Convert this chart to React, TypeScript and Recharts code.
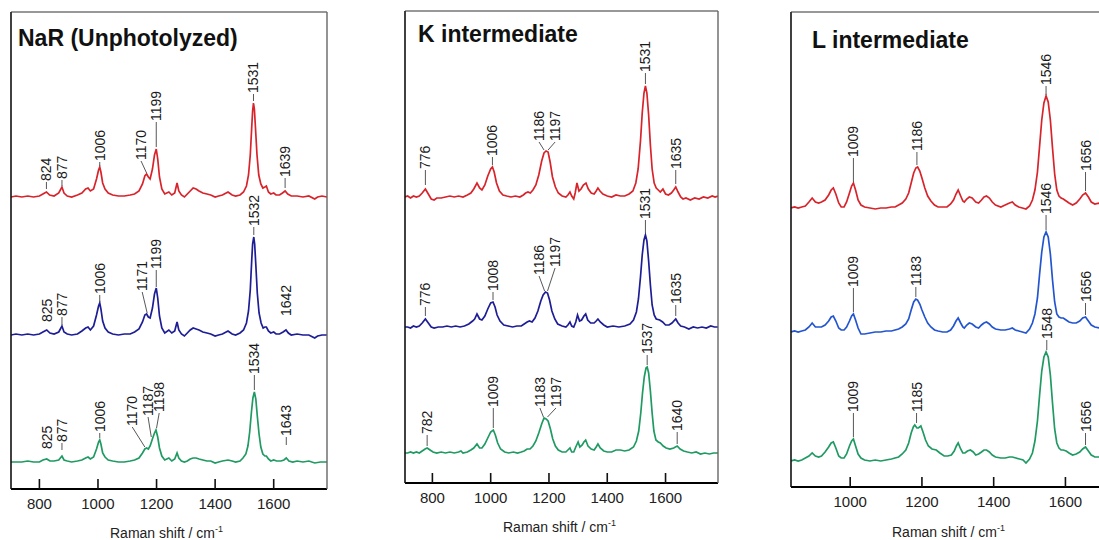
import React from "react";
import { ComposedChart, Line, XAxis, YAxis, Scatter, ReferenceLine } from "recharts";

type P = [number, number];
type Lab = [string, number, number, number, number]; // text, textWn, textY, peakWn, leaderEndY

const FONT = "'Liberation Sans', Arial, Helvetica, sans-serif";

// ---- NaR (unphotolyzed) ----
const narRed: P[] = [[703,0],[720,1],[740,0],[760,1],[780,0],[800,1],[812,3],[824,5],[835,2],[850,1],[866,4],[877,10],[884,4],[895,1],[910,0],[930,2],[945,4],[958,8],[966,9],[974,6],[985,8],[995,18],[1002,27],[1006,30],[1010,25],[1016,14],[1024,8],[1035,4],[1050,2],[1070,1],[1090,1],[1110,2],[1125,3],[1140,6],[1152,13],[1160,21],[1166,23],[1172,20],[1178,18],[1186,28],[1193,42],[1199,48],[1204,38],[1210,20],[1218,8],[1228,3],[1242,5],[1252,2],[1262,4],[1270,14],[1276,6],[1285,2],[1295,0],[1305,3],[1315,6],[1325,9],[1335,8],[1345,6],[1358,4],[1372,3],[1385,2],[1400,0],[1412,1],[1425,2],[1444,5],[1458,2],[1470,1],[1485,2],[1497,5],[1507,11],[1514,22],[1520,42],[1525,70],[1528,86],[1531,94],[1534,88],[1538,68],[1543,42],[1549,22],[1556,13],[1563,9],[1570,10],[1575,11],[1582,5],[1590,3],[1600,4],[1608,2],[1620,2],[1630,4],[1639,6],[1648,3],[1660,1],[1680,1],[1700,0],[1720,1],[1740,-2],[1750,0],[1765,1],[1782,0]];
const narBlue: P[] = [[703,0],[720,1],[740,0],[760,1],[780,0],[800,1],[812,3],[825,5],[836,2],[850,1],[866,3],[877,9],[884,3],[895,1],[910,0],[930,1],[945,4],[958,7],[966,8],[974,5],[985,9],[995,20],[1002,29],[1006,32],[1010,26],[1016,14],[1024,7],[1035,3],[1050,1],[1070,0],[1090,1],[1110,1],[1125,3],[1140,6],[1152,13],[1160,20],[1166,21],[1172,18],[1178,17],[1186,27],[1193,41],[1199,47],[1204,37],[1210,19],[1218,7],[1228,2],[1242,5],[1252,2],[1262,4],[1270,13],[1276,5],[1285,1],[1295,-1],[1305,2],[1315,5],[1325,7],[1335,6],[1345,5],[1358,3],[1372,2],[1385,1],[1400,-1],[1412,0],[1425,1],[1444,4],[1458,1],[1470,0],[1485,2],[1497,5],[1507,12],[1514,24],[1520,45],[1525,75],[1528,91],[1532,98],[1535,91],[1539,70],[1544,42],[1550,22],[1557,12],[1564,7],[1570,8],[1575,8],[1582,4],[1590,2],[1600,3],[1608,1],[1620,1],[1632,3],[1642,5],[1650,2],[1660,0],[1680,1],[1700,0],[1720,0],[1740,-3],[1750,-1],[1765,0],[1782,0]];
const narGreen: P[] = [[703,0],[720,0],[740,0],[760,1],[780,0],[800,0],[812,2],[825,3],[836,1],[850,1],[866,2],[877,6],[884,2],[895,1],[910,0],[930,1],[945,2],[958,4],[966,5],[974,3],[985,5],[995,13],[1002,20],[1006,22],[1010,18],[1016,9],[1024,5],[1035,2],[1050,1],[1070,0],[1090,0],[1110,1],[1125,2],[1140,4],[1152,9],[1160,13],[1166,14],[1172,13],[1178,16],[1187,24],[1193,29],[1198,32],[1204,25],[1210,14],[1218,6],[1228,2],[1242,4],[1252,1],[1262,3],[1270,9],[1276,4],[1285,1],[1295,0],[1305,1],[1315,3],[1325,4],[1335,4],[1345,3],[1358,2],[1372,1],[1385,1],[1400,-1],[1412,0],[1425,1],[1444,2],[1458,1],[1470,0],[1485,1],[1495,4],[1505,8],[1512,16],[1518,30],[1524,50],[1529,64],[1534,70],[1539,63],[1544,46],[1550,28],[1556,15],[1563,8],[1570,6],[1575,6],[1582,3],[1590,1],[1600,2],[1610,1],[1625,1],[1635,2],[1643,4],[1652,1],[1665,0],[1680,1],[1700,0],[1720,1],[1740,-1],[1760,0],[1782,0]];
const narOffsets = [292, 154, 27];
const narLabels: Lab[] = [
  ["824",824,307,824,300],["877",877,309,877,303],["1006",1006,327,1006,323],["1170",1147,328,1166,316],["1199",1199,367,1199,342],["1531",1531,395,1531,388],["1639",1639,311,1639,301],
  ["825",825,166,825,166],["877",877,172,877,164],["1006",1006,194,1006,187],["1171",1151,197,1168,176],["1199",1199,219,1199,202],["1532",1532,262,1532,254],["1642",1642,172,1642,172],
  ["825",825,39,825,39],["877",877,46,877,39],["1006",1006,56,1006,51],["1170",1117,62,1160,42],["1187",1171,72,1182,52],["1198",1209,76,1200,61],["1534",1534,114,1534,99],["1643",1643,52,1643,44],
];

// ---- K intermediate ----
const kRed: P[] = [[706,0],[715,1],[725,-1],[735,1],[745,0],[755,1],[765,4],[776,8],[786,3],[796,-2],[806,-3],[815,-1],[830,-1],[845,0],[860,1],[875,0],[890,1],[905,0],[920,2],[932,4],[942,8],[953,14],[962,9],[970,7],[980,12],[990,21],[1000,28],[1006,30],[1012,25],[1020,14],[1030,6],[1042,2],[1055,1],[1070,0],[1085,1],[1100,0],[1112,2],[1120,4],[1128,5],[1136,4],[1145,7],[1155,12],[1165,22],[1175,36],[1183,44],[1190,46],[1197,45],[1204,35],[1212,20],[1222,10],[1232,4],[1245,1],[1258,0],[1265,2],[1272,5],[1278,1],[1285,-2],[1290,4],[1296,14],[1303,6],[1310,8],[1318,12],[1327,14],[1335,8],[1345,4],[1355,3],[1362,6],[1368,9],[1375,6],[1385,3],[1400,1],[1415,0],[1430,2],[1445,1],[1460,1],[1475,3],[1488,6],[1498,14],[1506,28],[1514,56],[1520,84],[1526,104],[1531,111],[1536,104],[1542,82],[1548,52],[1554,28],[1561,14],[1568,9],[1575,7],[1582,5],[1591,8],[1600,3],[1610,2],[1620,4],[1628,7],[1635,10],[1643,5],[1652,0],[1660,-2],[1670,-1],[1685,-3],[1700,-1],[1715,-2],[1730,0],[1745,-1],[1760,1],[1770,0],[1780,1]];
const kBlue: P[] = [[706,0],[715,0],[725,-1],[735,1],[745,0],[755,1],[765,4],[776,8],[786,4],[796,0],[806,-1],[820,0],[835,0],[850,1],[865,0],[880,1],[895,0],[910,1],[925,3],[938,6],[945,8],[953,13],[962,8],[970,7],[980,11],[990,18],[1000,24],[1008,25],[1015,20],[1022,12],[1032,6],[1045,2],[1060,1],[1075,0],[1090,1],[1105,1],[1115,3],[1125,5],[1133,6],[1142,5],[1152,9],[1162,16],[1172,26],[1180,32],[1188,35],[1195,34],[1202,27],[1210,16],[1220,8],[1230,3],[1245,1],[1258,0],[1265,2],[1272,5],[1278,1],[1285,0],[1292,5],[1298,12],[1305,6],[1312,7],[1320,11],[1326,13],[1333,7],[1343,4],[1355,4],[1362,6],[1368,8],[1376,5],[1388,2],[1400,0],[1420,1],[1440,0],[1460,1],[1478,3],[1490,7],[1500,15],[1507,28],[1514,50],[1520,72],[1526,87],[1531,92],[1536,86],[1542,66],[1548,42],[1554,22],[1561,12],[1568,8],[1580,7],[1590,5],[1600,2],[1612,2],[1622,4],[1635,8],[1643,4],[1652,1],[1665,0],[1680,-2],[1695,0],[1710,-1],[1725,0],[1740,-1],[1755,1],[1768,0],[1780,0]];
const kGreen: P[] = [[706,0],[715,0],[725,1],[735,0],[745,1],[755,0],[765,2],[775,4],[782,5],[792,3],[802,1],[815,0],[830,1],[845,0],[860,1],[875,0],[890,1],[898,2],[905,0],[920,1],[932,3],[942,5],[953,9],[962,5],[970,5],[980,9],[990,15],[1000,21],[1009,23],[1016,18],[1024,10],[1034,4],[1048,1],[1062,0],[1078,1],[1092,0],[1105,1],[1115,2],[1125,4],[1135,4],[1145,7],[1155,12],[1165,20],[1175,29],[1183,35],[1190,34],[1197,32],[1205,24],[1213,14],[1222,7],[1232,3],[1245,1],[1258,1],[1265,3],[1272,5],[1278,1],[1285,1],[1292,6],[1300,11],[1306,6],[1314,8],[1320,11],[1326,13],[1334,7],[1345,4],[1355,3],[1362,6],[1368,9],[1376,5],[1388,2],[1400,1],[1415,1],[1430,3],[1445,3],[1460,2],[1475,3],[1490,6],[1500,12],[1508,22],[1515,40],[1521,60],[1527,76],[1533,85],[1537,86],[1542,80],[1548,62],[1554,40],[1560,22],[1567,13],[1575,11],[1582,10],[1592,7],[1602,5],[1615,4],[1628,5],[1640,7],[1650,4],[1662,2],[1675,1],[1690,0],[1705,1],[1720,-1],[1735,0],[1750,-1],[1765,0],[1780,0]];
const kOffsets = [286, 156, 30];
const kLabels: Lab[] = [
  ["776",776,313,776,298],["1006",1006,326,1006,318],["1186",1166,341,1183,333],["1197",1221,341,1197,333],["1531",1531,410,1531,399],["1635",1635,313,1635,299],
  ["776",776,176,776,167],["1008",1008,191,1008,183],["1186",1166,207,1185,192],["1197",1221,215,1195,192],["1531",1531,263,1531,250],["1635",1635,178,1635,167],
  ["782",782,48,782,37],["1009",1009,75,1009,55],["1183",1169,75,1181,66],["1197",1224,75,1195,66],["1537",1537,128,1537,118],["1640",1640,51,1640,39],
];

// ---- L intermediate ----
const lRed: P[] = [[835,0],[845,1],[855,0],[865,1],[875,2],[885,6],[894,10],[903,6],[912,5],[920,6],[930,8],[940,13],[947,18],[953,20],[960,14],[968,5],[975,1],[983,1],[990,6],[998,15],[1004,22],[1009,25],[1015,18],[1022,8],[1030,3],[1040,1],[1055,0],[1070,-1],[1085,0],[1100,0],[1115,1],[1125,1],[1135,3],[1145,5],[1155,9],[1163,15],[1170,25],[1177,35],[1183,40],[1188,41],[1194,37],[1200,30],[1208,20],[1216,12],[1225,7],[1235,3],[1245,1],[1258,1],[1270,1],[1280,4],[1288,8],[1295,14],[1301,18],[1308,12],[1314,7],[1318,6],[1325,9],[1332,11],[1340,10],[1350,6],[1358,5],[1366,8],[1373,11],[1380,12],[1388,10],[1396,6],[1405,3],[1420,1],[1432,3],[1444,5],[1452,6],[1460,3],[1470,1],[1480,0],[1490,-1],[1500,2],[1508,8],[1515,18],[1522,36],[1528,62],[1534,88],[1540,105],[1546,112],[1552,106],[1558,88],[1564,60],[1570,34],[1576,18],[1582,12],[1588,10],[1594,9],[1602,7],[1610,5],[1620,3],[1630,5],[1640,9],[1648,13],[1656,15],[1664,11],[1672,6],[1682,4],[1694,5],[1710,3],[1730,2],[1750,1],[1780,1]];
const lBlue: P[] = [[835,0],[845,1],[855,0],[865,1],[875,2],[885,5],[894,9],[903,5],[912,5],[920,5],[930,7],[940,11],[947,15],[953,16],[960,11],[968,4],[975,2],[983,2],[990,5],[998,11],[1004,16],[1009,18],[1015,12],[1022,4],[1030,-2],[1040,-2],[1055,-1],[1070,0],[1085,0],[1100,1],[1115,1],[1125,2],[1135,3],[1145,5],[1155,8],[1163,13],[1170,22],[1177,30],[1183,33],[1188,32],[1194,28],[1200,22],[1208,15],[1216,9],[1225,5],[1235,2],[1245,1],[1258,0],[1270,0],[1280,2],[1288,6],[1295,11],[1301,14],[1308,9],[1314,5],[1318,4],[1325,7],[1332,9],[1340,8],[1350,5],[1358,4],[1366,7],[1373,9],[1380,10],[1388,8],[1396,5],[1405,3],[1420,2],[1432,2],[1444,3],[1452,4],[1460,2],[1470,1],[1480,0],[1490,-1],[1500,3],[1508,9],[1515,18],[1522,34],[1528,58],[1534,80],[1540,95],[1546,100],[1552,95],[1558,78],[1564,52],[1570,30],[1576,18],[1582,15],[1588,14],[1594,14],[1602,12],[1610,10],[1620,9],[1630,9],[1640,11],[1648,14],[1656,15],[1664,11],[1672,7],[1682,5],[1694,4],[1710,3],[1730,2],[1750,1],[1780,1]];
const lGreen: P[] = [[835,0],[845,1],[855,0],[865,1],[875,3],[885,5],[894,8],[903,5],[912,4],[920,5],[930,9],[940,14],[947,18],[953,19],[960,13],[968,5],[975,3],[983,3],[990,7],[998,15],[1004,20],[1009,22],[1015,15],[1022,7],[1030,3],[1040,1],[1055,0],[1070,1],[1085,0],[1100,1],[1115,2],[1125,3],[1135,4],[1145,7],[1155,11],[1163,18],[1170,28],[1176,34],[1180,36],[1186,33],[1190,33],[1197,35],[1203,29],[1210,21],[1218,15],[1228,12],[1240,11],[1250,8],[1262,5],[1272,5],[1282,6],[1290,10],[1296,15],[1301,18],[1308,12],[1314,8],[1320,8],[1327,10],[1335,11],[1343,9],[1350,6],[1358,7],[1366,9],[1373,11],[1380,11],[1388,9],[1396,6],[1405,4],[1420,3],[1432,3],[1444,4],[1452,4],[1462,3],[1472,2],[1482,1],[1490,-2],[1500,2],[1508,8],[1515,20],[1522,40],[1528,66],[1534,90],[1540,104],[1546,109],[1552,104],[1558,86],[1564,58],[1570,32],[1576,18],[1582,13],[1588,11],[1594,11],[1602,10],[1610,8],[1620,6],[1630,7],[1640,9],[1648,12],[1656,14],[1664,10],[1672,6],[1682,4],[1694,4],[1710,3],[1730,2],[1750,1],[1780,1]];
const lOffsets = [279, 155, 26];
const lLabels: Lab[] = [
  ["1009",1009,329,1009,305],["1186",1186,335,1186,322],["1546",1546,401,1546,392],["1656",1656,315,1656,296],
  ["1009",1009,199,1009,175],["1183",1183,200,1183,190],["1546",1546,272,1546,257],["1656",1656,184,1656,172],
  ["1009",1009,74,1009,50],["1185",1185,74,1185,64],["1548",1548,147,1548,137],["1656",1656,54,1656,42],
];

const ticks1 = [800, 1000, 1200, 1400, 1600];
const ticks3 = [1000, 1200, 1400, 1600];

type PanelCfg = {
  traces: P[][];
  offsets: number[];
  colors: string[];
  labels: Lab[];
  domain: [number, number];
  yMax: number;
  ticks: number[];
  left: number;
  width: number;
  margin: { top: number; left: number; right: number; bottom: number };
  axisH: number;
};

const TickMark = (props: any) => {
  const { x, y, payload } = props;
  return (
    <g>
      <line x1={x} x2={x} y1={y} y2={y - 10} stroke="#111" strokeWidth={1.6} />
      <text x={x} y={y + 20} textAnchor="middle" fontSize={15} fontFamily={FONT} fill="#222">
        {payload.value}
      </text>
    </g>
  );
};

const LabelShape = (props: any) => {
  const { cx, cy, payload } = props;
  if (cx == null || cy == null) return <g />;
  const yy = cy - 1;
  return (
    <text
      x={cx}
      y={yy}
      transform={`rotate(-90 ${cx} ${yy})`}
      fontSize={14}
      fontFamily={FONT}
      fill="#1a1a1a"
      dominantBaseline="central"
      textAnchor="start"
    >
      {payload.label}
    </text>
  );
};

function Panel({ cfg }: { cfg: PanelCfg }) {
  const labelData = cfg.labels.map(([t, tx, ty]) => ({ x: tx, y: ty, label: t }));
  return (
    <div style={{ position: "absolute", left: cfg.left, top: 0 }}>
      <ComposedChart width={cfg.width} height={540} margin={cfg.margin}>
        <XAxis
          type="number"
          dataKey="x"
          domain={cfg.domain}
          allowDataOverflow
          ticks={cfg.ticks}
          tick={<TickMark />}
          tickLine={false}
          tickSize={0}
          tickMargin={0}
          height={cfg.axisH}
          axisLine={{ stroke: "#000", strokeWidth: 2 }}
          interval={0}
        />
        <YAxis type="number" dataKey="y" domain={[0, cfg.yMax]} allowDataOverflow hide />
        {cfg.traces.map((tr, i) => (
          <Line
            key={"t" + i}
            data={tr.map(([x, v]) => ({ x, y: v + cfg.offsets[i] }))}
            dataKey="y"
            type="linear"
            dot={false}
            activeDot={false}
            stroke={cfg.colors[i]}
            strokeWidth={1.7}
            isAnimationActive={false}
          />
        ))}
        {cfg.labels
          .filter((l) => l[2] !== l[4])
          .map(([t, tx, ty, px, py], i) => (
            <ReferenceLine
              key={"r" + i}
              segment={[
                { x: tx, y: ty },
                { x: px, y: py },
              ]}
              stroke="#444"
              strokeWidth={0.9}
              ifOverflow="visible"
            />
          ))}
        <Scatter data={labelData} dataKey="y" shape={<LabelShape />} isAnimationActive={false} />
      </ComposedChart>
    </div>
  );
}

const panels: PanelCfg[] = [
  {
    traces: [narRed, narBlue, narGreen],
    offsets: narOffsets,
    colors: ["#d8232b", "#1d1d96", "#1f9a62"],
    labels: narLabels,
    domain: [703, 1782],
    yMax: 477,
    ticks: ticks1,
    left: 0,
    width: 340,
    margin: { top: 12, left: 11, right: 13, bottom: 0 },
    axisH: 51,
  },
  {
    traces: [kRed, kBlue, kGreen],
    offsets: kOffsets,
    colors: ["#d8232b", "#1d1d96", "#1f9a62"],
    labels: kLabels,
    domain: [706, 1780],
    yMax: 472,
    ticks: ticks1,
    left: 380,
    width: 350,
    margin: { top: 11, left: 25, right: 12, bottom: 0 },
    axisH: 57,
  },
  {
    traces: [lRed, lBlue, lGreen],
    offsets: lOffsets,
    colors: ["#d8232b", "#2355d0", "#1f9a62"],
    labels: lLabels,
    domain: [835, 1780],
    yMax: 475,
    ticks: ticks3,
    left: 770,
    width: 380,
    margin: { top: 12, left: 21, right: 20, bottom: 0 },
    axisH: 53,
  },
];

const frames = [
  { l: 11, t: 12, r: 327, b: 489 },
  { l: 405, t: 11, r: 718, b: 483 },
  { l: 791, t: 12, r: 1130, b: 487 },
];

const titles = [
  { text: "NaR (Unphotolyzed)", x: 18, y: 46 },
  { text: "K intermediate", x: 418, y: 42 },
  { text: "L intermediate", x: 812, y: 48 },
];

const axisTitles = [
  { x: 110, y: 538 },
  { x: 503, y: 532 },
  { x: 892, y: 537 },
];

export default function App() {
  return (
    <div
      style={{
        position: "absolute",
        left: 0,
        top: 0,
        width: 1099,
        height: 540,
        overflow: "hidden",
        background: "#fff",
      }}
    >
      {panels.map((p, i) => (
        <Panel key={i} cfg={p} />
      ))}
      <svg
        width={1099}
        height={540}
        style={{ position: "absolute", left: 0, top: 0, pointerEvents: "none" }}
      >
        {frames.map((f, i) => (
          <g key={i}>
            <line x1={f.l} x2={f.l} y1={f.t} y2={f.b} stroke="#111" strokeWidth={1.6} />
            <line x1={f.l} x2={f.r} y1={f.t} y2={f.t} stroke="#333" strokeWidth={1.2} />
            <line x1={f.r} x2={f.r} y1={f.t} y2={f.b} stroke="#666" strokeWidth={1.4} />
          </g>
        ))}
        {titles.map((t, i) => (
          <text key={i} x={t.x} y={t.y} fontSize={23} fontWeight="bold" fontFamily={FONT} fill="#111">
            {t.text}
          </text>
        ))}
        {axisTitles.map((a, i) => (
          <text key={i} x={a.x} y={a.y} fontSize={14} fontFamily={FONT} fill="#222">
            Raman shift / cm
            <tspan dy={-6} fontSize={9}>
              -1
            </tspan>
          </text>
        ))}
      </svg>
    </div>
  );
}
